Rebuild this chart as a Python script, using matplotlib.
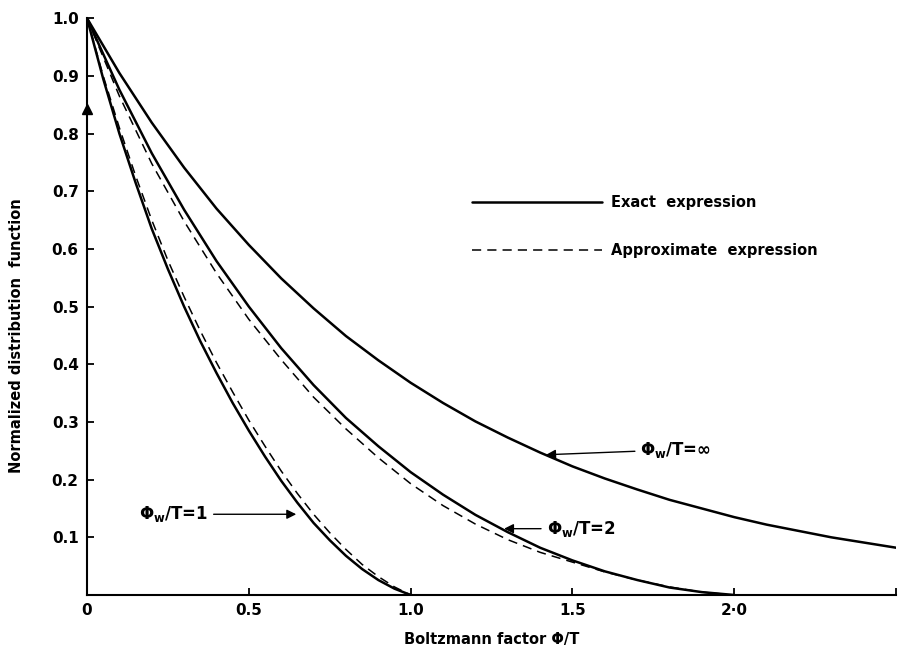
import matplotlib
matplotlib.use("Agg")
import matplotlib.pyplot as plt

# values
x_inf = [0.0, 0.1, 0.2, 0.3, 0.4, 0.5, 0.6, 0.7, 0.8, 0.9, 1.0, 1.1, 1.2, 1.3,
         1.4, 1.5, 1.6, 1.7, 1.8, 1.9, 2.0, 2.1, 2.2, 2.3, 2.4, 2.5]
y_inf = [1.0, 0.905, 0.819, 0.741, 0.670, 0.607, 0.549, 0.497, 0.449, 0.407,
         0.368, 0.333, 0.301, 0.273, 0.247, 0.223, 0.202, 0.183, 0.165, 0.150,
         0.135, 0.122, 0.111, 0.100, 0.091, 0.082]

x_w2 = [0.0, 0.1, 0.2, 0.3, 0.4, 0.5, 0.6, 0.7, 0.8, 0.9, 1.0, 1.1, 1.2, 1.3,
        1.4, 1.5, 1.6, 1.7, 1.8, 1.9, 2.0]
y_w2_exact = [1.0, 0.876, 0.766, 0.668, 0.579, 0.500, 0.428, 0.364, 0.307,
              0.258, 0.213, 0.174, 0.139, 0.109, 0.082, 0.060, 0.041, 0.026,
              0.013, 0.005, 0.0]
y_w2_approx = [1.0, 0.865, 0.748, 0.648, 0.558, 0.478, 0.408, 0.343, 0.288,
               0.238, 0.193, 0.155, 0.123, 0.096, 0.074, 0.057, 0.040, 0.026,
               0.014, 0.005, 0.0]

x_w1 = [0.0, 0.05, 0.1, 0.15, 0.2, 0.25, 0.3, 0.35, 0.4, 0.45, 0.5, 0.55, 0.6,
        0.65, 0.7, 0.75, 0.8, 0.85, 0.9, 0.95, 1.0]
y_w1_exact = [1.0, 0.895, 0.80, 0.715, 0.635, 0.565, 0.50, 0.44, 0.385, 0.333,
              0.285, 0.24, 0.198, 0.16, 0.125, 0.095, 0.068, 0.045, 0.026,
              0.011, 0.0]
y_w1_approx = [1.0, 0.90, 0.81, 0.727, 0.65, 0.58, 0.517, 0.458, 0.403, 0.352,
               0.303, 0.258, 0.215, 0.176, 0.140, 0.108, 0.079, 0.053, 0.032,
               0.014, 0.0]

x_ticks = [0, 0.5, 1.0, 1.5, 2.0, 2.5]
x_labels = ["0", "0.5", "1.0", "1.5", "2·0", ""]
y_ticks = [0.1, 0.2, 0.3, 0.4, 0.5, 0.6, 0.7, 0.8, 0.9, 1.0]
y_labels = ["0.1", "0.2", "0.3", "0.4", "0.5", "0.6", "0.7", "0.8", "0.9", "1.0"]

fig = plt.figure(figsize=(8.99, 6.51), dpi=100)
ax = fig.add_axes([0.0968, 0.086, 0.9, 0.886])

solid = dict(color="black", lw=1.8, solid_capstyle="round")
dashed = dict(color="black", lw=1.1, dashes=(6, 4))

ax.plot(x_inf, y_inf, **solid)
ax.plot(x_w2, y_w2_exact, **solid)
ax.plot(x_w2, y_w2_approx, **dashed)
ax.plot(x_w1, y_w1_exact, **solid)
ax.plot(x_w1, y_w1_approx, **dashed)

ax.set_xlim(0, 2.5)
ax.set_ylim(0, 1.0)
for s in ["top", "right"]:
    ax.spines[s].set_visible(False)
for s in ["left", "bottom"]:
    ax.spines[s].set_linewidth(1.5)

ax.set_xticks(x_ticks)
ax.set_xticklabels(x_labels)
ax.set_yticks(y_ticks)
ax.set_yticklabels(y_labels)
ax.tick_params(direction="in", length=5, width=1.3, labelsize=11, pad=6)
for lab in ax.get_xticklabels() + ax.get_yticklabels():
    lab.set_fontweight("bold")

# arrow head on the vertical axis
ax.plot([0], [0.843], marker="^", color="black", markersize=7, clip_on=False)

ax.set_xlabel("Boltzmann factor \u03a6/T", fontsize=10.5, fontweight="bold",
              labelpad=10)
ax.set_ylabel("Normalized distribution  function", fontsize=10.5,
              fontweight="bold")
ax.yaxis.set_label_coords(-0.078, 0.45)

# legend drawn by hand like the original
ax.plot([1.19, 1.59], [0.681, 0.681], **solid)
ax.text(1.62, 0.681, "Exact  expression", fontsize=10.5, fontweight="bold",
        va="center")
ax.plot([1.19, 1.59], [0.598, 0.598], **dashed)
ax.text(1.62, 0.598, "Approximate  expression", fontsize=10.5,
        fontweight="bold", va="center")

arrow = dict(arrowstyle="-|>", color="black", lw=1.0, mutation_scale=14)
ax.annotate(r"$\mathbf{\Phi_w}$/T=$\mathbf{\infty}$", xy=(1.41, 0.243),
            xytext=(1.71, 0.252), fontsize=12, fontweight="bold", va="center",
            arrowprops=arrow)
ax.annotate(r"$\mathbf{\Phi_w}$/T=2", xy=(1.28, 0.115), xytext=(1.42, 0.115),
            fontsize=12, fontweight="bold", va="center", arrowprops=arrow)
ax.annotate(r"$\mathbf{\Phi_w}$/T=1", xy=(0.655, 0.14), xytext=(0.16, 0.14),
            fontsize=12, fontweight="bold", va="center", arrowprops=arrow)

fig.savefig("out.png", dpi=100)
